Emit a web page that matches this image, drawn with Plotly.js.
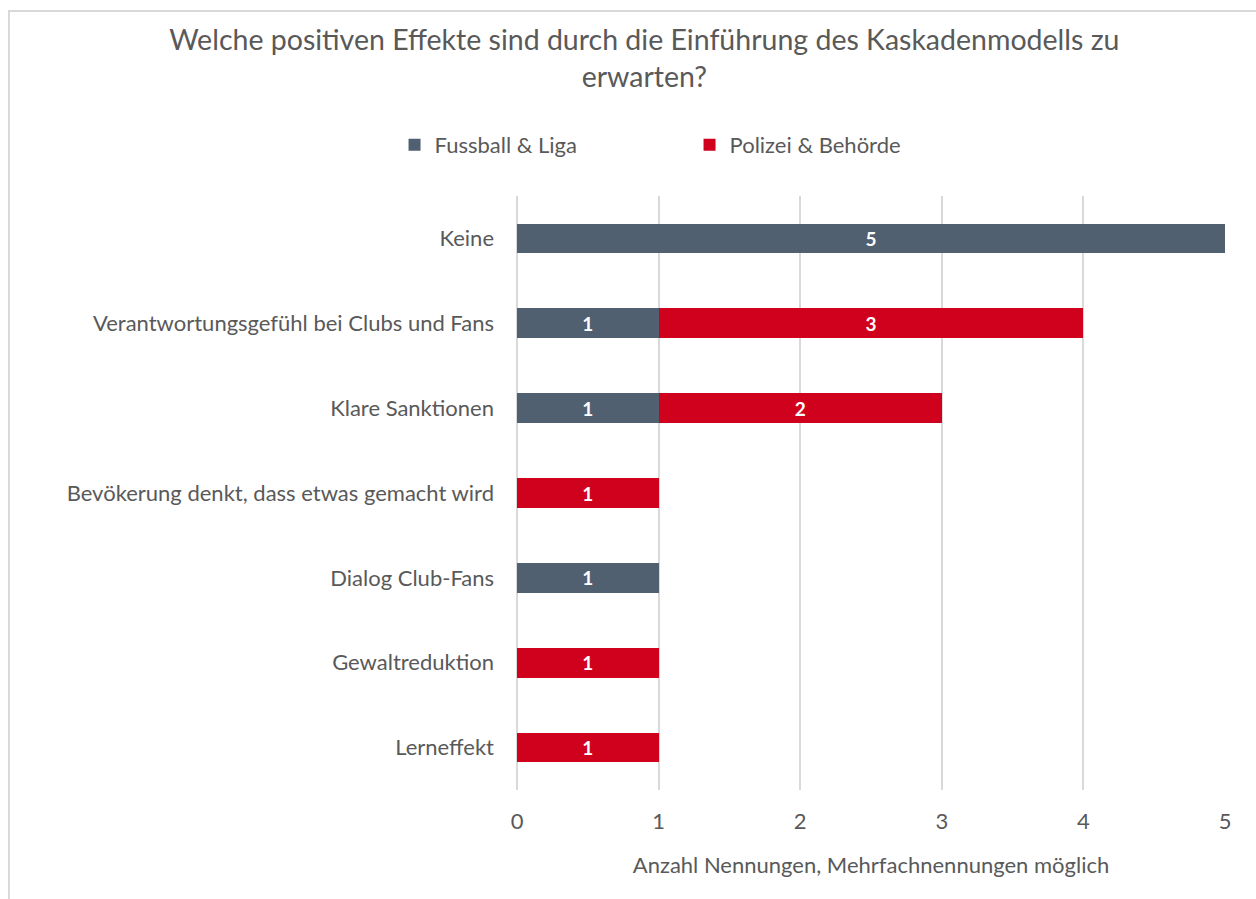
<!DOCTYPE html>
<html>
<head>
<meta charset="utf-8">
<script src="https://cdn.plot.ly/plotly-3.0.1.min.js"></script>
<style>
html,body{margin:0;padding:0;background:#fff;overflow:hidden;}
#chart{width:1256px;height:899px;}
#frame{position:absolute;left:8px;top:10px;width:1260px;height:900px;border:2px solid #d9d9d9;box-sizing:border-box;pointer-events:none;}
</style>
</head>
<body>
<div id="chart"></div>
<div id="frame"></div>
<script>
const categories = [
  "Keine",
  "Verantwortungsgefühl bei Clubs und Fans",
  "Klare Sanktionen",
  "Bevökerung denkt, dass etwas gemacht wird",
  "Dialog Club-Fans",
  "Gewaltreduktion",
  "Lerneffekt"
];
const fussballLiga = [5, 1, 1, 0, 1, 0, 0];
const polizeiBehoerde = [0, 3, 2, 1, 0, 1, 1];
const seriesNames = ["Fussball & Liga", "Polizei & Behörde"];
const xTicks = [0, 1, 2, 3, 4, 5];

const FONT = "Lato, 'Open Sans', sans-serif";
const txt = arr => arr.map(v => v > 0 ? String(v) : "");

const common = {
  type: "bar",
  orientation: "h",
  y: categories,
  textposition: "inside",
  insidetextanchor: "middle",
  textangle: 0,
  textfont: {family: FONT, size: 19, color: "#ffffff", weight: "bold"},
  hoverinfo: "x+y+name",
  cliponaxis: false
};

const traces = [
  Object.assign({}, common, {
    name: seriesNames[0], x: fussballLiga, text: txt(fussballLiga),
    marker: {color: "#506070"}
  }),
  Object.assign({}, common, {
    name: seriesNames[1], x: polizeiBehoerde, text: txt(polizeiBehoerde),
    marker: {color: "#d0011c"}
  })
];

const layout = {
  width: 1256, height: 899,
  paper_bgcolor: "#ffffff", plot_bgcolor: "#ffffff",
  barmode: "stack",
  bargap: 0.65,
  margin: {l: 517, r: 31, t: 196, b: 109, autoexpand: false},
  font: {family: FONT, color: "#595959"},
  title: {
    text: "Welche positiven Effekte sind durch die Einführung des Kaskadenmodells zu<br>erwarten?",
    font: {family: FONT, size: 28.5, color: "#595959"},
    x: 0.513, xanchor: "center", y: 1 - 50/899, yanchor: "middle", yref: "container"
  },
  legend: {
    orientation: "h", x: 0.549, xanchor: "center", y: 1 - 145/899, yanchor: "middle",
    yref: "container", xref: "container",
    font: {family: FONT, size: 22, color: "#595959"},
    entrywidth: 250, entrywidthmode: "pixels",
    traceorder: "normal", itemclick: false
  },
  xaxis: {
    range: [0, 5], tickvals: xTicks, ticktext: xTicks.map(String),
    showgrid: true, gridcolor: "#d9d9d9", gridwidth: 2,
    zeroline: true, zerolinecolor: "#d9d9d9", zerolinewidth: 2,
    showline: false, ticks: "", ticklen: 0, ticklabelstandoff: 16,
    tickfont: {family: FONT, size: 22, color: "#595959"},
    title: {text: "Anzahl Nennungen, Mehrfachnennungen möglich", standoff: 24,
            font: {family: FONT, size: 22, color: "#595959"}},
    automargin: false,
    fixedrange: true
  },
  yaxis: {
    type: "category", autorange: "reversed",
    showgrid: false, zeroline: false, showline: false, ticks: "",
    ticklabelstandoff: 22,
    tickfont: {family: FONT, size: 22, color: "#595959"},
    automargin: false,
    fixedrange: true
  },
  showlegend: true
};

Plotly.newPlot("chart", traces, layout, {displayModeBar: false, staticPlot: false});
</script>
</body>
</html>
